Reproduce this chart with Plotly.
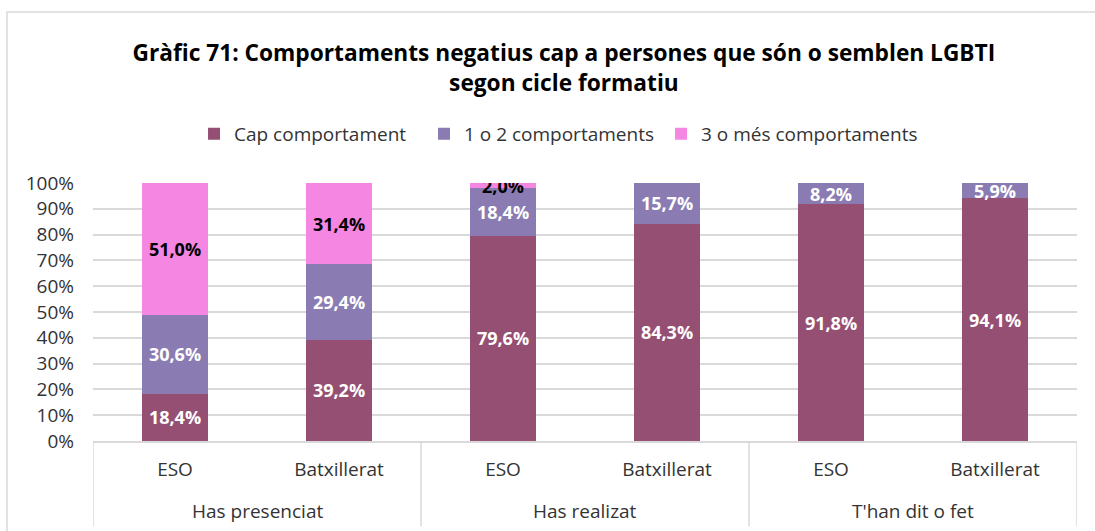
import plotly.graph_objects as go

# Survey groups and education stages
groups = ["Has presenciat", "Has realizat", "T'han dit o fet"]
bar_labels = ["ESO", "Batxillerat", "ESO", "Batxillerat", "ESO", "Batxillerat"]

# Percentages per stacked series
cap_comportament = [18.4, 39.2, 79.6, 84.3, 91.8, 94.1]
un_o_dos = [30.6, 29.4, 18.4, 15.7, 8.2, 5.9]
tres_o_mes = [51.0, 31.4, 2.0, 0.0, 0.0, 0.0]

series = [
    ("Cap comportament", cap_comportament, "#954F72", "white", "legend"),
    ("1 o 2 comportaments", un_o_dos, "#8A7CB3", "white", "legend2"),
    ("3 o més comportaments", tres_o_mes, "#F587E3", "black", "legend3"),
]

FONT = "'Open Sans', sans-serif"
GRID = "#D9D9D9"
TXT = "#333333"

xpos = list(range(len(bar_labels)))

fig = go.Figure()
for name, vals, color, tcolor, leg in series:
    texts = [f"{v:.1f}%".replace(".", ",") if v > 0 else "" for v in vals]
    fig.add_trace(go.Bar(
        name=name,
        legend=leg,
        x=xpos,
        y=vals,
        marker=dict(color=color, line=dict(width=0)),
        width=0.40,
        text=texts,
        texttemplate="%{text}",
        textposition="inside",
        insidetextanchor="middle",
        textangle=0,
        constraintext="none",
        textfont=dict(family=FONT, size=18, color=tcolor, weight="bold"),
    ))

# Group dividers below the axis
shapes = []
for xb in [-0.5, 1.5, 3.5, 5.5]:
    shapes.append(dict(type="line", xref="x", yref="paper",
                       x0=xb, x1=xb, y0=0, y1=-0.33,
                       line=dict(color=GRID, width=1.5)))
# Outer chart frame
shapes.append(dict(type="rect", xref="paper", yref="paper",
                   x0=-0.0874, x1=1.05, y0=-0.40, y1=1.663,
                   line=dict(color=GRID, width=1.5), fillcolor="rgba(0,0,0,0)",
                   layer="below"))

# Group captions
annotations = []
for i, g in enumerate(groups):
    annotations.append(dict(text=g, x=2 * i + 0.5, xref="x", y=-0.271, yref="paper",
                            showarrow=False, yanchor="middle",
                            font=dict(family=FONT, size=19, color=TXT)))


def legend_at(xfrac):
    return dict(
        orientation="h", x=xfrac, xref="container", xanchor="left",
        y=0.748, yref="container", yanchor="middle",
        font=dict(family=FONT, size=19, color=TXT),
        itemwidth=30, bgcolor="rgba(0,0,0,0)",
    )


fig.update_layout(
    width=1095, height=531,
    margin=dict(l=93, r=18, t=183, b=90),
    paper_bgcolor="white", plot_bgcolor="white",
    barmode="stack",
    showlegend=True,
    title=dict(
        text="<b>Gràfic 71: Comportaments negatius cap a persones que són o semblen LGBTI<br>segon cicle formatiu</b>",
        x=0.515, xanchor="center", y=0.885, yanchor="middle",
        font=dict(family=FONT, size=22.7, color="black"),
    ),
    legend=legend_at(0.1772),
    legend2=legend_at(0.3872),
    legend3=legend_at(0.6037),
    xaxis=dict(
        range=[-0.5, 5.5], tickvals=xpos, ticktext=bar_labels,
        showgrid=False, zeroline=False,
        showline=True, linecolor=GRID, linewidth=1.5,
        ticks="", ticklabelstandoff=10,
        tickfont=dict(family=FONT, size=19, color=TXT),
    ),
    yaxis=dict(
        range=[0, 100], dtick=10, ticksuffix="%",
        showgrid=True, gridcolor=GRID, gridwidth=1.5,
        zeroline=False, showline=False, ticks="",
        ticklabelstandoff=18,
        tickfont=dict(family=FONT, size=19, color=TXT),
    ),
    uniformtext=dict(minsize=18, mode="show"),
    shapes=shapes,
    annotations=annotations,
)

fig.write_html("out.html")
